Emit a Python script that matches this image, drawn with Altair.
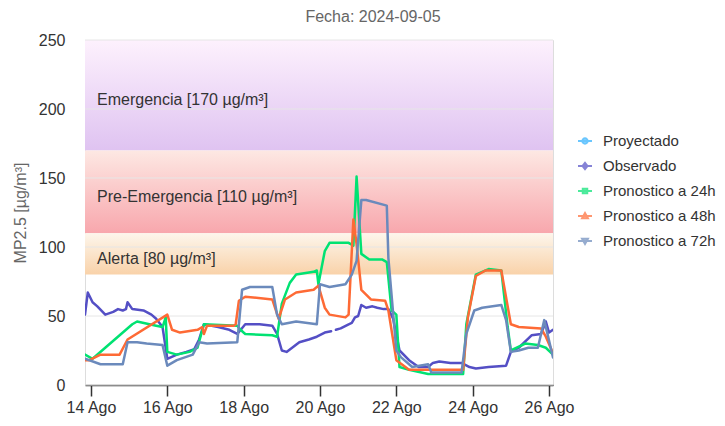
import altair as alt
import pandas as pd

FONT = "Liberation Sans"

title_text = "Fecha: 2024-09-05"
y_title = "MP2.5 [µg/m³]"

series_names = ["Proyectado", "Observado", "Pronostico a 24h", "Pronostico a 48h", "Pronostico a 72h"]
series_colors = ["#2caffe", "#544fc5", "#00e272", "#fe6a35", "#6b8abc"]

obs_time = ["2024-08-13T20:15", "2024-08-13T22:00", "2024-08-14T01:00", "2024-08-14T04:00", "2024-08-14T09:00",
            "2024-08-14T14:00", "2024-08-14T17:00", "2024-08-14T20:00", "2024-08-14T22:00", "2024-08-14T23:00",
            "2024-08-15T02:00", "2024-08-15T09:00", "2024-08-15T14:00", "2024-08-15T17:00", "2024-08-15T21:00",
            "2024-08-16T00:00", "2024-08-16T06:00", "2024-08-16T12:00", "2024-08-16T17:00", "2024-08-16T20:00",
            "2024-08-16T23:00", "2024-08-17T08:00", "2024-08-17T15:00", "2024-08-17T20:00", "2024-08-18T01:00",
            "2024-08-18T10:00", "2024-08-18T18:00", "2024-08-18T21:00", "2024-08-19T00:00", "2024-08-19T03:00",
            "2024-08-19T11:00", "2024-08-19T17:00", "2024-08-19T22:00", "2024-08-20T03:00", "2024-08-20T07:00",
            "2024-08-20T08:00", "2024-08-20T10:00", "2024-08-20T13:00", "2024-08-20T18:00", "2024-08-20T20:00",
            "2024-08-20T22:00", "2024-08-21T00:00", "2024-08-21T02:00", "2024-08-21T05:00", "2024-08-21T09:00",
            "2024-08-21T12:00", "2024-08-21T16:00", "2024-08-21T19:00", "2024-08-21T22:00", "2024-08-22T02:00",
            "2024-08-22T08:00", "2024-08-22T14:00", "2024-08-22T20:00", "2024-08-22T23:00", "2024-08-23T03:00",
            "2024-08-23T10:00", "2024-08-23T17:00", "2024-08-23T22:00", "2024-08-24T02:00", "2024-08-24T10:00",
            "2024-08-24T21:00", "2024-08-25T00:00", "2024-08-25T05:00", "2024-08-25T13:00", "2024-08-25T19:00",
            "2024-08-25T22:00", "2024-08-26T00:00", "2024-08-26T02:30"]
obs_value = [51, 67, 60, 57, 51,
             53, 55, 54, 55, 60,
             55, 54, 51, 48, 42,
             19, 22, 24, 26, 33,
             44, 42, 40, 37, 44,
             44, 43, 37, 25, 24,
             31, 33, 35, 38, 39,
             None, 40, 41, 44, 45,
             49, 50, 58, 56, 57,
             56, 55, 55, 48, 25,
             18, 13, 13, 16, 17,
             16, 16, 13, 12, 13,
             14, 24, 27, 36, 37,
             46, 38, 40]

p24_time = ["2024-08-13T20:15", "2024-08-14T01:00", "2024-08-15T02:00", "2024-08-15T05:00", "2024-08-15T17:00",
            "2024-08-15T21:00", "2024-08-15T23:00", "2024-08-16T00:00", "2024-08-16T06:00", "2024-08-16T14:00",
            "2024-08-16T19:00", "2024-08-16T23:00", "2024-08-17T20:00", "2024-08-17T22:00", "2024-08-18T01:00",
            "2024-08-18T18:00", "2024-08-18T21:00", "2024-08-19T00:00", "2024-08-19T05:00", "2024-08-19T09:00",
            "2024-08-19T20:00", "2024-08-19T22:00", "2024-08-19T23:00", "2024-08-20T03:00", "2024-08-20T06:00",
            "2024-08-20T18:00", "2024-08-20T21:00", "2024-08-20T23:00", "2024-08-21T02:00", "2024-08-21T07:00",
            "2024-08-21T15:00", "2024-08-21T18:00", "2024-08-21T21:00", "2024-08-22T00:00", "2024-08-22T02:00",
            "2024-08-22T08:00", "2024-08-22T20:00", "2024-08-23T18:00", "2024-08-23T20:00", "2024-08-24T02:00",
            "2024-08-24T10:00", "2024-08-24T18:00", "2024-08-24T22:00", "2024-08-25T00:00", "2024-08-25T09:00",
            "2024-08-25T17:00", "2024-08-25T22:00", "2024-08-26T02:30"]
p24_value = [22, 19, 44, 46, 43,
             42, 49, 24, 22, 24,
             27, 44, 43, 40, 37,
             36, 35, 59, 74, 80,
             82, 83, 73, 97, 103,
             103, 101, 151, 95, 91,
             91, 89, 54, 51, 13,
             11, 8, 8, 44, 80,
             84, 83, 42, 25, 30,
             29, 27, 22]

p48_time = ["2024-08-13T20:15", "2024-08-13T23:00", "2024-08-14T06:00", "2024-08-14T18:00", "2024-08-14T23:00",
            "2024-08-16T00:00", "2024-08-16T03:00", "2024-08-16T08:00", "2024-08-16T19:00", "2024-08-16T22:00",
            "2024-08-16T23:00", "2024-08-17T01:00", "2024-08-17T18:00", "2024-08-17T19:00", "2024-08-17T21:00",
            "2024-08-18T01:00", "2024-08-18T18:00", "2024-08-18T22:00", "2024-08-19T02:00", "2024-08-19T09:00",
            "2024-08-19T20:00", "2024-08-19T23:00", "2024-08-20T03:00", "2024-08-20T06:00", "2024-08-20T16:00",
            "2024-08-20T18:00", "2024-08-20T21:00", "2024-08-20T23:00", "2024-08-21T02:00", "2024-08-21T08:00",
            "2024-08-21T17:00", "2024-08-21T19:00", "2024-08-22T00:00", "2024-08-22T08:00", "2024-08-23T18:00",
            "2024-08-23T21:00", "2024-08-24T02:00", "2024-08-24T08:00", "2024-08-24T18:00", "2024-08-25T00:00",
            "2024-08-25T05:00", "2024-08-25T19:00", "2024-08-25T22:00", "2024-08-26T02:30"]
p48_value = [18, 18, 22, 22, 33,
             51, 40, 38, 40, 42,
             37, 43, 43, 44, 61,
             64, 62, 48, 62, 67,
             69, 72, 56, 51, 49,
             51, 120, 102, 69, 62,
             61, 54, 18, 11, 11,
             49, 79, 83, 83, 44,
             42, 41, 35, 23]

p72_time = ["2024-08-13T20:15", "2024-08-14T06:00", "2024-08-14T20:00", "2024-08-14T23:00", "2024-08-15T05:00",
            "2024-08-15T11:00", "2024-08-15T21:00", "2024-08-16T00:00", "2024-08-16T06:00", "2024-08-16T16:00",
            "2024-08-16T20:00", "2024-08-17T01:00", "2024-08-17T20:00", "2024-08-17T23:00", "2024-08-18T04:00",
            "2024-08-18T18:00", "2024-08-18T21:00", "2024-08-19T00:00", "2024-08-19T09:00", "2024-08-19T22:00",
            "2024-08-20T00:00", "2024-08-20T06:00", "2024-08-20T16:00", "2024-08-20T20:00", "2024-08-20T23:00",
            "2024-08-21T02:00", "2024-08-21T05:00", "2024-08-21T18:00", "2024-08-21T19:00", "2024-08-22T00:00",
            "2024-08-22T03:00", "2024-08-22T10:00", "2024-08-22T20:00", "2024-08-22T22:00", "2024-08-23T17:00",
            "2024-08-23T20:00", "2024-08-24T01:00", "2024-08-24T06:00", "2024-08-24T18:00", "2024-08-24T21:00",
            "2024-08-25T00:00", "2024-08-25T05:00", "2024-08-25T11:00", "2024-08-25T17:00", "2024-08-25T21:00",
            "2024-08-26T02:30"]
p72_value = [19, 15, 15, 31, 31,
             30, 29, 14, 18, 22,
             31, 30, 31, 69, 71,
             71, 51, 44, 46, 44,
             73, 71, 73, 80, 90,
             134, 134, 130, 92, 25,
             20, 13, 15, 9, 9,
             37, 54, 56, 58, 47,
             24, 25, 27, 27, 47,
             20]

band_names = ["Emergencia", "Pre-Emergencia", "Alerta"]
band_labels = ["Emergencia [170 µg/m³]", "Pre-Emergencia [110 µg/m³]", "Alerta [80 µg/m³]"]
band_from = [170, 110, 80]
band_to = [250, 170, 110]

y_ticks = [0, 50, 100, 150, 200, 250]
x_tick_days = [14, 16, 18, 20, 22, 24, 26]

# ---- tables ----
frames = []
for name, t, v in [("Observado", obs_time, obs_value),
                   ("Pronostico a 24h", p24_time, p24_value),
                   ("Pronostico a 48h", p48_time, p48_value),
                   ("Pronostico a 72h", p72_time, p72_value)]:
    frames.append(pd.DataFrame({"fecha": t, "valor": v, "serie": name}))
lines_df = pd.concat(frames, ignore_index=True)

bands_df = pd.DataFrame({"banda": band_names, "label": band_labels, "desde": band_from, "hasta": band_to})
bands_df["medio"] = (bands_df["desde"] + bands_df["hasta"]) / 2
grid_df = pd.DataFrame({"y": y_ticks})
legend_df = pd.DataFrame({"serie": series_names})

band_gradients = {
    "Emergencia": ("#fdf1fd", "#dfc3f1"),
    "Pre-Emergencia": ("#fde8e3", "#f8a7ad"),
    "Alerta": ("#fdf6ec", "#f9d2a9"),
}

y_scale = alt.Scale(domain=[0, 250], nice=False, zero=True)
x_scale = alt.Scale(nice=False, padding=0)

band_layers = []
for name in band_names:
    top, bottom = band_gradients[name]
    band_layers.append(
        alt.Chart(bands_df).transform_filter(alt.datum.banda == name).mark_rect(
            color=alt.Gradient(gradient="linear", x1=0, x2=0, y1=0, y2=1,
                               stops=[alt.GradientStop(offset=0, color=top),
                                      alt.GradientStop(offset=1, color=bottom)])
        ).encode(y=alt.Y("hasta:Q", scale=y_scale), y2="desde:Q")
    )

grid = alt.Chart(grid_df).mark_rule(color="#e6e6e6", strokeWidth=1).encode(
    y=alt.Y("y:Q", scale=y_scale)
)

band_text = alt.Chart(bands_df).mark_text(
    align="left", baseline="middle", font=FONT, fontSize=16, color="#333333", dy=5
).encode(x=alt.value(12), y=alt.Y("medio:Q", scale=y_scale), text="label:N")

x_values = [alt.DateTime(year=2024, month=8, date=d) for d in x_tick_days]

lines = alt.Chart(lines_df).mark_line(strokeWidth=2.5, clip=True, strokeJoin="round", strokeCap="round").encode(
    x=alt.X("fecha:T", scale=x_scale,
            axis=alt.Axis(title=None, values=x_values, labelExpr="timeFormat(datum.value, '%d') + ' Ago'",
                          grid=False, domainColor="#333333", domainWidth=1.5, tickColor="#333333",
                          tickWidth=1.5, tickSize=11, labelPadding=3, labelFontSize=16,
                          labelColor="#333333", labelFont=FONT)),
    y=alt.Y("valor:Q", scale=y_scale,
            axis=alt.Axis(title=y_title, values=y_ticks, grid=False, domain=False, ticks=False,
                          labelPadding=20, labelFontSize=16, labelColor="#333333", labelFont=FONT,
                          titleFont=FONT, titleFontSize=16, titleColor="#666666",
                          titleFontWeight="normal", titlePadding=10)),
    color=alt.Color("serie:N", scale=alt.Scale(domain=series_names, range=series_colors), legend=None),
    detail="serie:N",
)

line_seg = "M-1,0H1 "
shape_paths = [
    line_seg + "M-0.38,0A0.38,0.38,0,1,1,0.38,0A0.38,0.38,0,1,1,-0.38,0Z",
    line_seg + "M0,-0.46L0.36,0L0,0.46L-0.36,0Z",
    line_seg + "M-0.32,-0.32H0.32V0.32H-0.32Z",
    line_seg + "M0,-0.42L0.42,0.32L-0.42,0.32Z",
    line_seg + "M0,0.42L0.42,-0.32L-0.42,-0.32Z",
]

legend_cfg = alt.Legend(title=None, orient="none", legendX=492, legendY=93, padding=0,
                        symbolSize=196, symbolStrokeWidth=2, labelFontSize=15, labelFont=FONT,
                        labelColor="#333333", labelOffset=10, rowPadding=9)

legend_layer = alt.Chart(legend_df).transform_filter(alt.datum.serie == "__none__").mark_point(
    filled=True, strokeWidth=2
).encode(
    fill=alt.Fill("serie:N", scale=alt.Scale(domain=series_names, range=series_colors), legend=legend_cfg),
    stroke=alt.Stroke("serie:N", scale=alt.Scale(domain=series_names, range=series_colors), legend=legend_cfg),
    shape=alt.Shape("serie:N", scale=alt.Scale(domain=series_names, range=shape_paths), legend=legend_cfg),
)

chart = alt.layer(*band_layers, grid, band_text, lines, legend_layer).resolve_scale(
    color="independent"
).properties(
    width=468, height=345,
    padding={"left": 77, "top": 32, "right": 164, "bottom": 33},
    autosize=alt.AutoSizeParams(type="none"),
    title=alt.TitleParams(title_text, font=FONT, fontSize=16, color="#666666", fontWeight="normal",
                          anchor="middle", dx=54, offset=7),
).configure_view(strokeWidth=0).configure(background="white")

chart.save("out.html", embed_options={"renderer": "svg", "actions": False})
